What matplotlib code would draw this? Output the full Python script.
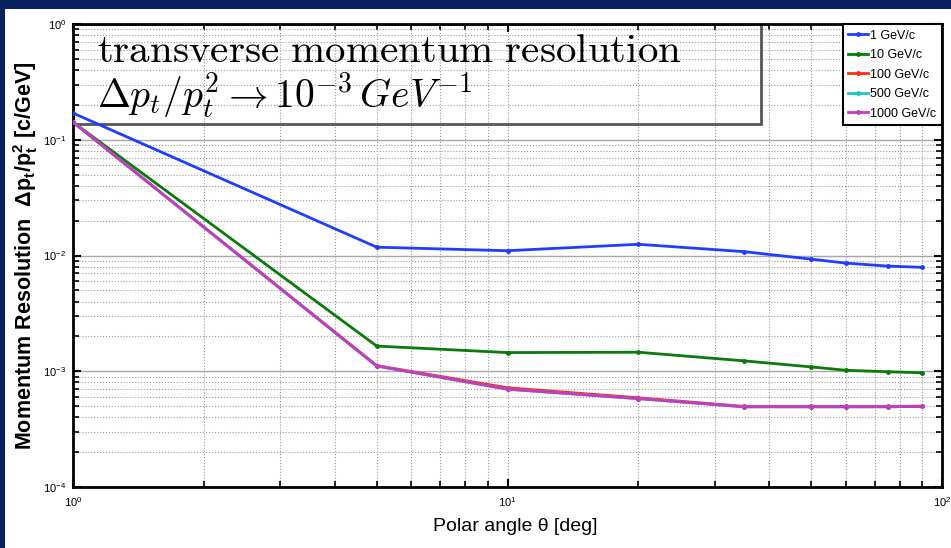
import matplotlib
matplotlib.use("Agg")
import matplotlib.pyplot as plt
from matplotlib.patches import Rectangle
from matplotlib.ticker import LogLocator, FuncFormatter, NullFormatter
import numpy as np

plt.rcParams['font.family'] = ['Liberation Sans', 'DejaVu Sans']
plt.rcParams['mathtext.fontset'] = 'custom'
plt.rcParams['mathtext.rm'] = 'Liberation Sans'
plt.rcParams['mathtext.it'] = 'Liberation Sans:italic'
plt.rcParams['mathtext.bf'] = 'Liberation Sans:bold'

# Polar angle (deg) and resolution for each momentum
theta = [1, 5, 10, 20, 35, 50, 60, 75, 90]
res_1 = [0.170, 0.0118, 0.0110, 0.0125, 0.0108, 0.0093, 0.0086, 0.0081, 0.0079]
res_10 = [0.142, 0.00165, 0.00145, 0.00146, 0.00123, 0.00109, 0.00102, 0.00099, 0.00097]
res_100 = [0.142, 0.00112, 0.00072, 0.00059, 0.000497, 0.000497, 0.000497, 0.000497, 0.000500]
res_500 = [0.142, 0.00111, 0.00070, 0.00058, 0.000493, 0.000493, 0.000493, 0.000493, 0.000497]
res_1000 = [0.142, 0.00111, 0.00070, 0.00058, 0.000493, 0.000493, 0.000493, 0.000493, 0.000497]

labels = ['1 GeV/c', '10 GeV/c', '100 GeV/c', '500 GeV/c', '1000 GeV/c']
colors = ['#1f3dff', '#0b7a0b', '#ff2a1a', '#1fc4c4', '#c23cc2']
series = [res_1, res_10, res_100, res_500, res_1000]

W, H = 951, 548
fig = plt.figure(figsize=(W / 100, H / 100), dpi=100)
fig.patch.set_facecolor('#07205e')
fig.add_artist(Rectangle((5 / W, 0), 1 - 5 / W, 1 - 9 / H, transform=fig.transFigure,
                         facecolor='white', edgecolor='none', zorder=-5))

ax = fig.add_axes([73 / W, 1 - 487 / H, (942 - 73) / W, (487 - 24) / H])
ax.set_xscale('log')
ax.set_yscale('log')
ax.set_xlim(1, 100)
ax.set_ylim(1e-4, 1)
ax.set_axisbelow(True)

for vals, lab, col in zip(series, labels, colors):
    ax.plot(theta, vals, color=col, lw=2.0, marker='.', markersize=5, label=lab, zorder=3)

# grid
ax.grid(which='major', axis='y', color='#a8a8a8', lw=1.0, ls='-')
ax.grid(which='major', axis='x', color='#9a9a9a', lw=0.8, ls=':')
ax.grid(which='minor', axis='both', color='#9a9a9a', lw=0.8, ls=':')

ax.xaxis.set_major_locator(LogLocator(base=10, numticks=10))
ax.yaxis.set_major_locator(LogLocator(base=10, numticks=10))
ax.xaxis.set_minor_locator(LogLocator(base=10, subs=np.arange(2, 10), numticks=20))
ax.yaxis.set_minor_locator(LogLocator(base=10, subs=np.arange(2, 10), numticks=20))
ax.xaxis.set_minor_formatter(NullFormatter())
ax.yaxis.set_minor_formatter(NullFormatter())
fmt = FuncFormatter(lambda v, p: r'$\mathregular{10^{%d}}$' % int(round(np.log10(v))))
ax.xaxis.set_major_formatter(fmt)
ax.yaxis.set_major_formatter(fmt)
ax.tick_params(which='both', direction='in', top=True, right=True, color='black', labelsize=8)
ax.tick_params(which='major', length=6, width=1.5)
ax.tick_params(which='minor', length=4, width=1.2)
ax.tick_params(axis='x', pad=6)
ax.tick_params(axis='y', pad=5)
for s in ax.spines.values():
    s.set_linewidth(2)

ax.set_xlabel('Polar angle θ [deg]', fontsize=14, labelpad=3)
ax.xaxis.set_label_coords(0.509, -0.068)
ax.set_ylabel(r'Momentum Resolution  $\mathbf{\Delta p_t/p_t^2}$ [c/GeV]', fontsize=15.5,
              fontweight='bold', labelpad=2)

# annotation box in the upper left (outline only)
box = Rectangle((0, 1 - (124 - 24) / 463), (761 - 73) / 869, (124 - 24) / 463,
                transform=ax.transAxes, facecolor='none', edgecolor='#555555', lw=2, zorder=2)
ax.add_patch(box)
ax.text(24 / 869, 1 - (62 - 24) / 463, r'$\mathrm{transverse\ momentum\ resolution}$',
        transform=ax.transAxes, fontsize=29.5, math_fontfamily='cm', va='baseline', zorder=2.5)
ax.text(24 / 869, 1 - (108 - 24) / 463, r'$\Delta p_t/p_t^2 \rightarrow 10^{-3}\,GeV^{-1}$',
        transform=ax.transAxes, fontsize=28.5, math_fontfamily='cm', va='baseline', zorder=2.5)

leg = ax.legend(loc='upper right', borderaxespad=0, fontsize=9, handlelength=1.6,
                labelspacing=0.6, handletextpad=0.15, borderpad=0.45, fancybox=False,
                framealpha=1)
leg.get_frame().set_edgecolor('black')
leg.get_frame().set_linewidth(1.5)
leg.set_zorder(5)

fig.savefig('out.png', dpi=100, facecolor=fig.get_facecolor())
